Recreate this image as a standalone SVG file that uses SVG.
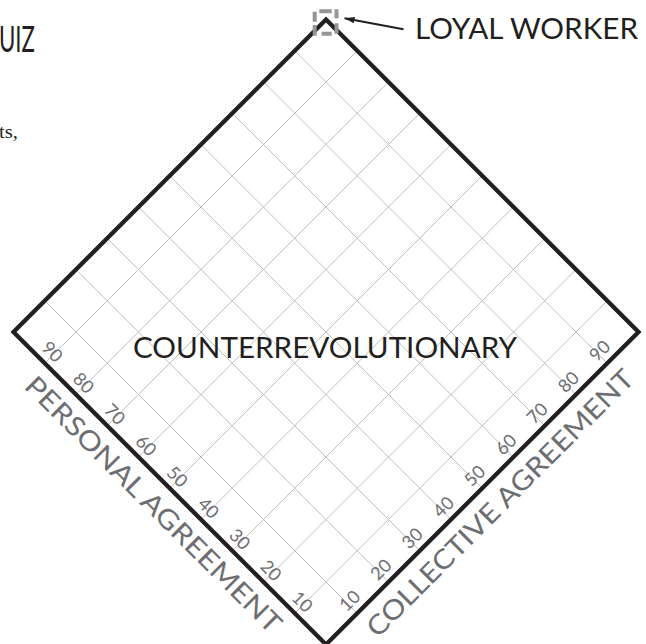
<svg xmlns="http://www.w3.org/2000/svg" width="646" height="644" viewBox="0 0 646 644">
<style>
.grid line{stroke:#bfbfbf;stroke-width:1;}
.frame{fill:none;stroke:#231f20;stroke-width:4.3;stroke-linejoin:miter;stroke-miterlimit:10;}
.num{font-family:Lato,'Liberation Sans',sans-serif;font-size:18px;fill:#6d6e71;text-anchor:middle;}
.axis{font-family:Lato,'Liberation Sans',sans-serif;font-size:27px;fill:#6d6e71;text-anchor:middle;}
.big{font-family:Lato,'Liberation Sans',sans-serif;font-size:29px;fill:#231f20;}
.marker{fill:none;stroke:#939598;stroke-width:4;stroke-linecap:butt;}
.conn{stroke:#231f20;stroke-width:2;fill:none;}
</style>
<defs>
<marker id="ah" markerUnits="userSpaceOnUse" markerWidth="11" markerHeight="8" refX="10" refY="4" orient="auto">
<path d="M0,0.8 L10,4 L0,7.2 z" fill="#231f20"/>
</marker>
</defs>
<rect width="646" height="644" fill="#ffffff"/>
<text x="-1" y="52" style="font-family:Lato,'Liberation Sans',sans-serif;font-size:37px;fill:#231f20" textLength="36" lengthAdjust="spacingAndGlyphs">UIZ</text>
<text x="-1" y="138" style="font-family:'Liberation Serif',serif;font-size:18px;fill:#231f20" textLength="19" lengthAdjust="spacingAndGlyphs">ts,</text>
<g id="chart">
<g class="grid">
<line x1="357.25" y1="50.75" x2="44.75" y2="363.25"/>
<line x1="388.5" y1="82" x2="76" y2="394.5"/>
<line x1="419.75" y1="113.25" x2="107.25" y2="425.75"/>
<line x1="451" y1="144.5" x2="138.5" y2="457"/>
<line x1="482.25" y1="175.75" x2="169.75" y2="488.25"/>
<line x1="513.5" y1="207" x2="201" y2="519.5"/>
<line x1="544.75" y1="238.25" x2="232.25" y2="550.75"/>
<line x1="576" y1="269.5" x2="263.5" y2="582"/>
<line x1="607.25" y1="300.75" x2="294.75" y2="613.25"/>
<line x1="44.75" y1="300.75" x2="357.25" y2="613.25"/>
<line x1="76" y1="269.5" x2="388.5" y2="582"/>
<line x1="107.25" y1="238.25" x2="419.75" y2="550.75"/>
<line x1="138.5" y1="207" x2="451" y2="519.5"/>
<line x1="169.75" y1="175.75" x2="482.25" y2="488.25"/>
<line x1="201" y1="144.5" x2="513.5" y2="457"/>
<line x1="232.25" y1="113.25" x2="544.75" y2="425.75"/>
<line x1="263.5" y1="82" x2="576" y2="394.5"/>
<line x1="294.75" y1="50.75" x2="607.25" y2="363.25"/>
</g>
<polygon class="frame" points="326,19.5 638.5,332 326,644.5 13.5,332"/>
</g>
<g id="personal-scale">
<text class="num" transform="translate(52,352) rotate(45)" y="6">90</text>
<text class="num" transform="translate(83.25,383.25) rotate(45)" y="6">80</text>
<text class="num" transform="translate(114.5,414.5) rotate(45)" y="6">70</text>
<text class="num" transform="translate(145.75,445.75) rotate(45)" y="6">60</text>
<text class="num" transform="translate(177,477) rotate(45)" y="6">50</text>
<text class="num" transform="translate(208.25,508.25) rotate(45)" y="6">40</text>
<text class="num" transform="translate(239.5,539.5) rotate(45)" y="6">30</text>
<text class="num" transform="translate(270.75,570.75) rotate(45)" y="6">20</text>
<text class="num" transform="translate(302,602) rotate(45)" y="6">10</text>
<text class="axis" transform="translate(153.5,504.5) rotate(45)" y="9.5" textLength="350" lengthAdjust="spacingAndGlyphs">PERSONAL AGREEMENT</text>
</g>
<g id="collective-scale">
<text class="num" transform="translate(350,601) rotate(-45)" y="6">10</text>
<text class="num" transform="translate(381.25,569.75) rotate(-45)" y="6">20</text>
<text class="num" transform="translate(412.5,538.5) rotate(-45)" y="6">30</text>
<text class="num" transform="translate(443.75,507.25) rotate(-45)" y="6">40</text>
<text class="num" transform="translate(475,476) rotate(-45)" y="6">50</text>
<text class="num" transform="translate(506.25,444.75) rotate(-45)" y="6">60</text>
<text class="num" transform="translate(537.5,413.5) rotate(-45)" y="6">70</text>
<text class="num" transform="translate(568.75,382.25) rotate(-45)" y="6">80</text>
<text class="num" transform="translate(600,351) rotate(-45)" y="6">90</text>
<text class="axis" transform="translate(500,503) rotate(-45)" y="9.5" textLength="365" lengthAdjust="spacingAndGlyphs">COLLECTIVE AGREEMENT</text>
</g>
<g id="counterrevolutionary">
<text class="big" x="133" y="358" textLength="384" lengthAdjust="spacingAndGlyphs">COUNTERREVOLUTIONARY</text>
</g>
<g id="loyal-worker-marker">
<path class="marker" d="M319.3,11.3 H331.7 M336.5,9.3 V18.3 M336.5,23.3 V33.7 M331.7,33.7 H321.7 M314.7,35.7 V25 M314.7,21.7 V11.7"/>
</g>
<g id="loyal-worker">
<text class="big" x="415" y="39" textLength="223" lengthAdjust="spacingAndGlyphs">LOYAL WORKER</text>
</g>
<g id="connectors">
<line class="conn" x1="403.5" y1="29.3" x2="344.5" y2="18.3" marker-end="url(#ah)"/>
</g>
</svg>
